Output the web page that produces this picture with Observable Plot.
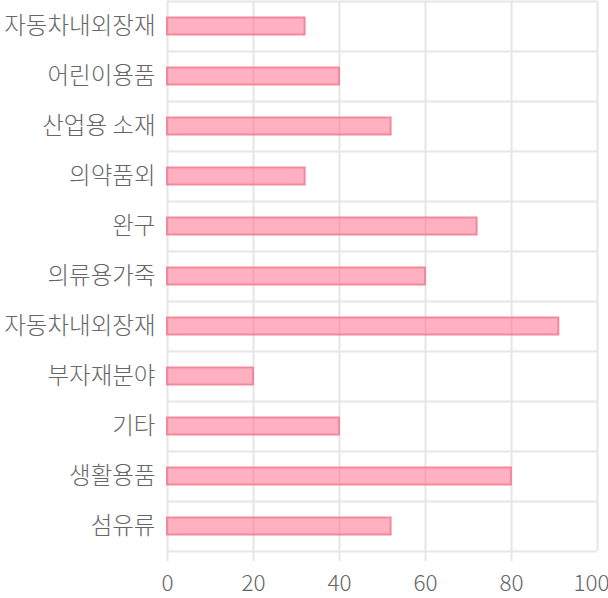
<!DOCTYPE html>
<html>
<head>
<meta charset="utf-8">
<script src="https://cdn.jsdelivr.net/npm/d3@7"></script>
<script src="https://cdn.jsdelivr.net/npm/@observablehq/plot@0.6"></script>
<style>
  html, body { margin: 0; padding: 0; background: #fff; }
  #chart svg { display: block; }
</style>
</head>
<body>
<div id="chart"></div>
<script>
const categories = ["자동차내외장재", "어린이용품", "산업용 소재", "의약품외", "완구", "의류용가죽", "자동차내외장재", "부자재분야", "기타", "생활용품", "섬유류"];
const values = [32, 40, 52, 32, 72, 60, 91, 20, 40, 80, 52];
const xTicks = [0, 20, 40, 60, 80, 100];

const data = categories.map((c, i) => ({i, category: c, value: values[i]}));
const rowEdges = d3.range(categories.length + 1);
const rowCenters = categories.map((_, i) => i + 0.5);

const chart = Plot.plot({
  width: 608,
  height: 598,
  marginLeft: 167,
  marginRight: 11,
  marginTop: 1,
  marginBottom: 47,
  style: {fontFamily: "'Noto Sans CJK KR', 'Noto Sans', sans-serif", fontSize: "22px", fontWeight: 300, color: "#666", background: "#fff", overflow: "visible"},
  x: {domain: [0, 100], axis: null, label: null},
  y: {domain: [0, categories.length], reverse: true, axis: null, label: null},
  marks: [
    Plot.ruleY(rowEdges, {y: d => d, x1: 0, x2: 100, stroke: "#e6e6e6", strokeWidth: 2}),
    Plot.ruleX(xTicks, {x: d => d, y1: 0, y2: categories.length, stroke: "#e6e6e6", strokeWidth: 2}),
    Plot.axisX(xTicks.slice(0, -1), {anchor: "bottom", label: null, tickSize: 10, tickPadding: 14, stroke: "#e6e6e6", strokeWidth: 2, fill: "#666", fontSize: 22.5}),
    Plot.axisX(xTicks.slice(-1), {anchor: "bottom", label: null, tickSize: 10, tickPadding: 14, stroke: "#e6e6e6", strokeWidth: 2, fill: "#666", fontSize: 22.5, textAnchor: "end", dx: 12}),
    Plot.axisY({ticks: rowCenters, tickFormat: v => categories[Math.round(v - 0.5)], anchor: "left", label: null, tickSize: 0, tickPadding: 12, fill: "#666", fontSize: 23.5}),
    Plot.rectX(data, {
      x1: 0,
      x2: "value",
      y1: d => d.i + 0.33,
      y2: d => d.i + 0.67,
      fill: "rgb(255,99,132)",
      fillOpacity: 0.5,
      stroke: "#f4879c",
      strokeWidth: 2
    })
  ]
});
document.getElementById("chart").appendChild(chart);
</script>
</body>
</html>
